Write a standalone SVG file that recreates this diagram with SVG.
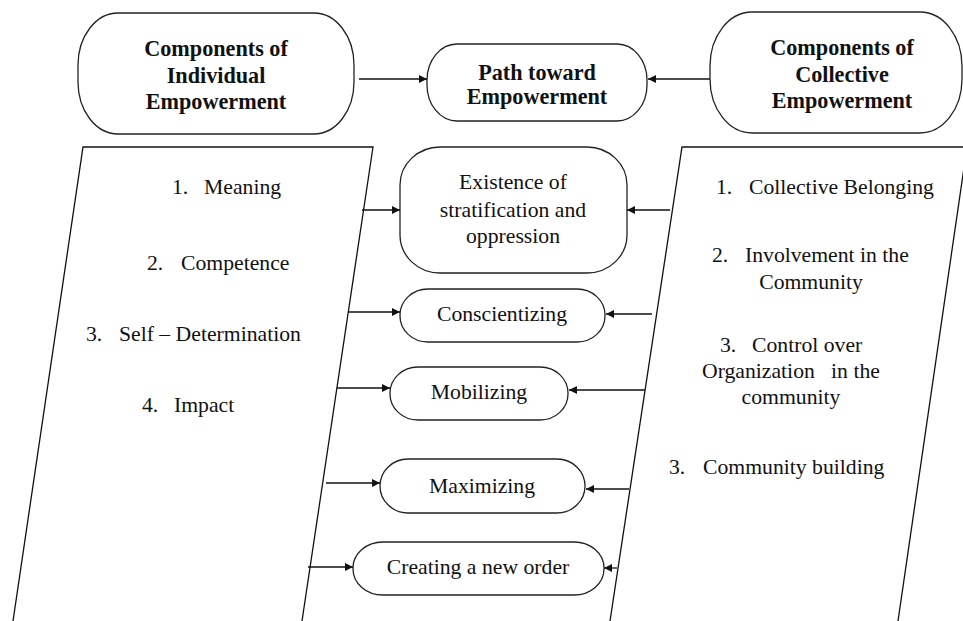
<svg xmlns="http://www.w3.org/2000/svg" width="963" height="621" viewBox="0 0 963 621">
<defs>
<style>
.box{fill:#fff;stroke:#222;stroke-width:1.3}
.pg{fill:none;stroke:#111;stroke-width:1.3}
.cn{fill:none;stroke:#111;stroke-width:1.3}
.b{font-family:"Liberation Serif","Times New Roman",serif;font-weight:bold;font-size:22.2px;fill:#111;text-anchor:middle}
.t{font-family:"Liberation Serif","Times New Roman",serif;font-size:21.7px;fill:#111}
.m{text-anchor:middle}
</style>
<marker id="ah" viewBox="0 0 10 10" refX="10" refY="5" markerWidth="10" markerHeight="8" markerUnits="userSpaceOnUse" orient="auto">
<path d="M0,0 L10,5 L0,10 Z" fill="#111"/>
</marker>
</defs>
<rect width="963" height="621" fill="#fff"/>

<g id="individual-list">
<path class="pg" d="M13,621 L83,147 L373,147 L302,621"/>
<text class="t" y="194"><tspan x="172">1.</tspan><tspan x="204">Meaning</tspan></text>
<text class="t" y="270"><tspan x="147">2.</tspan><tspan x="181">Competence</tspan></text>
<text class="t" y="341"><tspan x="86">3.</tspan><tspan x="119">Self – Determination</tspan></text>
<text class="t" y="412"><tspan x="142">4.</tspan><tspan x="174">Impact</tspan></text>
</g>

<g id="collective-list">
<path class="pg" d="M610,621 L682,147 L967,147 L898,621"/>
<text class="t" y="194"><tspan x="716">1.</tspan><tspan x="749">Collective Belonging</tspan></text>
<text class="t" y="262"><tspan x="712">2.</tspan><tspan x="745">Involvement in the</tspan></text>
<text class="t m" x="811" y="289">Community</text>
<text class="t" y="352"><tspan x="720">3.</tspan><tspan x="752">Control over</tspan></text>
<text class="t" x="702" y="378" xml:space="preserve">Organization   in the</text>
<text class="t m" x="791" y="404">community</text>
<text class="t" y="474"><tspan x="669">3.</tspan><tspan x="703">Community building</tspan></text>
</g>

<g id="individual-components">
<rect class="box" x="78" y="13" width="276" height="121" rx="40" ry="52"/>
<text class="b" x="216" y="56">Components of</text>
<text class="b" x="216" y="83">Individual</text>
<text class="b" x="216" y="109">Empowerment</text>
</g>

<g id="path-toward">
<rect class="box" x="427" y="44" width="220" height="77" rx="30" ry="36"/>
<text class="b" x="537" y="80">Path toward</text>
<text class="b" x="537" y="104">Empowerment</text>
</g>

<g id="collective-components">
<rect class="box" x="710" y="12" width="252" height="121" rx="42" ry="54"/>
<text class="b" x="842" y="55">Components of</text>
<text class="b" x="842" y="82">Collective</text>
<text class="b" x="842" y="108">Empowerment</text>
</g>

<g id="existence">
<rect class="box" x="400" y="147" width="227" height="126" rx="40" ry="38"/>
<text class="t m" x="513" y="189">Existence of</text>
<text class="t m" x="513" y="217">stratification and</text>
<text class="t m" x="513" y="243">oppression</text>
</g>

<g id="conscientizing">
<rect class="box" x="400" y="289" width="205" height="53" rx="28" ry="26"/>
<text class="t m" x="502" y="321">Conscientizing</text>
</g>

<g id="mobilizing">
<rect class="box" x="390" y="367" width="178" height="53" rx="28" ry="26"/>
<text class="t m" x="479" y="399">Mobilizing</text>
</g>

<g id="maximizing">
<rect class="box" x="380" y="459" width="205" height="54" rx="28" ry="27"/>
<text class="t m" x="482" y="493">Maximizing</text>
</g>

<g id="creating">
<rect class="box" x="353" y="542" width="251" height="53" rx="30" ry="26"/>
<text class="t m" x="478" y="574">Creating a new order</text>
</g>

<g id="connectors">
<line class="cn" x1="359" y1="79" x2="427" y2="79" marker-end="url(#ah)"/>
<line class="cn" x1="710" y1="79" x2="648" y2="79" marker-end="url(#ah)"/>
<line class="cn" x1="362" y1="210" x2="400" y2="210" marker-end="url(#ah)"/>
<line class="cn" x1="348" y1="312" x2="400" y2="312" marker-end="url(#ah)"/>
<line class="cn" x1="337" y1="388" x2="390" y2="388" marker-end="url(#ah)"/>
<line class="cn" x1="326" y1="483" x2="380" y2="483" marker-end="url(#ah)"/>
<line class="cn" x1="308" y1="567" x2="353" y2="567" marker-end="url(#ah)"/>
<line class="cn" x1="670" y1="210" x2="627" y2="210" marker-end="url(#ah)"/>
<line class="cn" x1="652" y1="314" x2="606" y2="314" marker-end="url(#ah)"/>
<line class="cn" x1="645" y1="390" x2="569" y2="390" marker-end="url(#ah)"/>
<line class="cn" x1="629" y1="489" x2="586" y2="489" marker-end="url(#ah)"/>
<line class="cn" x1="617" y1="568" x2="604" y2="568" marker-end="url(#ah)"/>
</g>
</svg>
